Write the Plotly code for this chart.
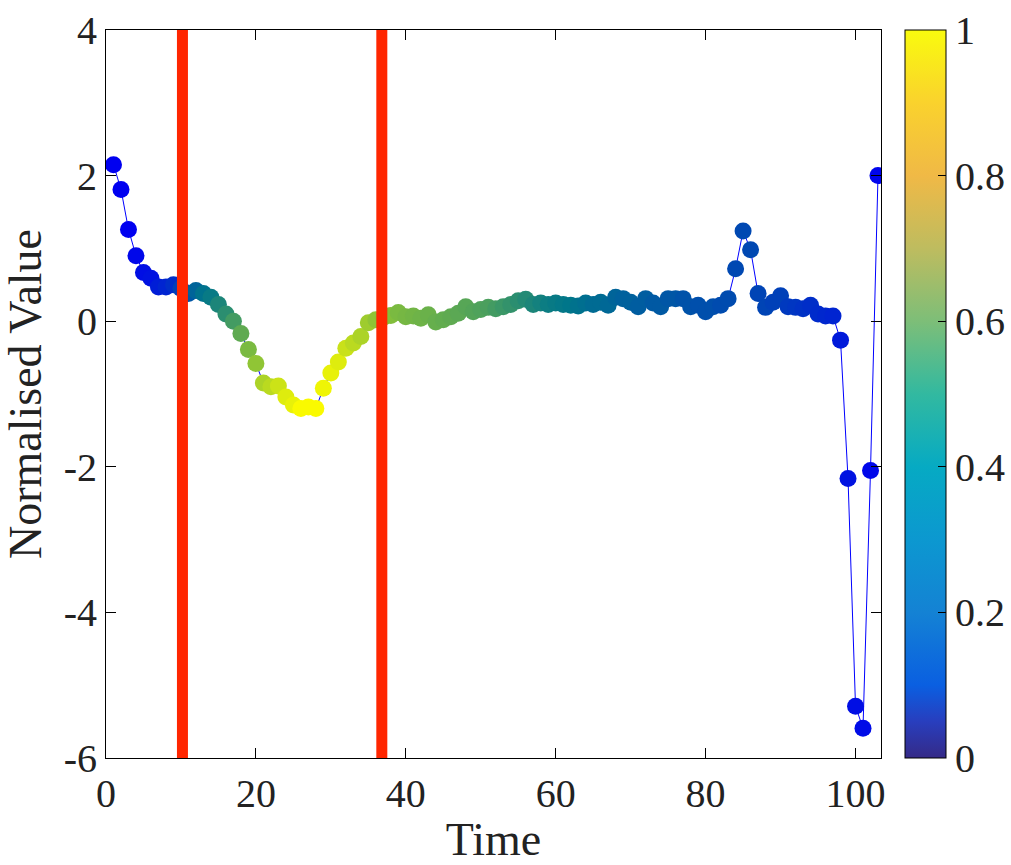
import plotly.graph_objects as go

time = list(range(1, 104))
values = [2.15, 1.81, 1.26, 0.90, 0.67, 0.59, 0.47, 0.47, 0.50, 0.45,
          0.38, 0.42, 0.38, 0.33, 0.23, 0.10, 0.00, -0.17, -0.39, -0.58,
          -0.85, -0.90, -0.89, -1.04, -1.15, -1.20, -1.18, -1.20, -0.92, -0.71,
          -0.56, -0.37, -0.30, -0.21, -0.02, 0.02, 0.05, 0.08, 0.12, 0.06,
          0.07, 0.04, 0.09, -0.01, 0.02, 0.06, 0.11, 0.20, 0.13, 0.16,
          0.19, 0.17, 0.20, 0.23, 0.28, 0.30, 0.23, 0.25, 0.23, 0.25,
          0.23, 0.22, 0.21, 0.25, 0.23, 0.26, 0.22, 0.33, 0.31, 0.26,
          0.20, 0.31, 0.25, 0.20, 0.31, 0.31, 0.31, 0.20, 0.22, 0.13,
          0.20, 0.22, 0.31, 0.72, 1.24, 0.98, 0.38, 0.19, 0.26, 0.35,
          0.20, 0.19, 0.17, 0.22, 0.10, 0.07, 0.07, -0.26, -2.16, -5.29,
          -5.59, -2.05, 2.00]
colour_value = [0.00, 0.00, 0.00, 0.02, 0.04, 0.05, 0.08, 0.10, 0.13, 0.18,
                0.24, 0.28, 0.32, 0.35, 0.40, 0.44, 0.50, 0.57, 0.64, 0.70,
                0.78, 0.82, 0.87, 0.92, 0.95, 1.00, 1.00, 1.00, 0.97, 0.95,
                0.92, 0.86, 0.82, 0.78, 0.74, 0.70, 0.68, 0.66, 0.64, 0.63,
                0.62, 0.61, 0.60, 0.59, 0.58, 0.57, 0.56, 0.55, 0.54, 0.53,
                0.52, 0.50, 0.48, 0.46, 0.44, 0.42, 0.40, 0.38, 0.36, 0.35,
                0.34, 0.33, 0.32, 0.31, 0.30, 0.30, 0.29, 0.28, 0.27, 0.27,
                0.26, 0.26, 0.25, 0.25, 0.24, 0.24, 0.23, 0.23, 0.22, 0.22,
                0.22, 0.21, 0.21, 0.20, 0.20, 0.20, 0.19, 0.19, 0.18, 0.18,
                0.16, 0.15, 0.14, 0.13, 0.12, 0.11, 0.10, 0.07, 0.05, 0.04,
                0.03, 0.02, 0.01]
event_times = [10.2, 36.8]
x_ticks = [0, 20, 40, 60, 80, 100]
y_ticks = [-6, -4, -2, 0, 2, 4]
y_tick_text = ["-6", "-4", "-2", "0", "2", "4"]
cbar_ticks = [0, 0.2, 0.4, 0.6, 0.8, 1]
cbar_tick_text = ["0", "0.2", "0.4", "0.6", "0.8", "1"]

marker_scale = [[0.0, "rgb(0,0,240)"], [0.33, "rgb(0,118,138)"],
                [0.66, "rgb(130,190,60)"], [1.0, "rgb(250,250,0)"]]
parula = [[0.0, "rgb(53,42,135)"], [0.05, "rgb(40,62,190)"], [0.1, "rgb(10,95,225)"],
          [0.2, "rgb(20,130,212)"], [0.3, "rgb(12,152,208)"], [0.4, "rgb(6,170,195)"],
          [0.5, "rgb(50,185,160)"], [0.6, "rgb(125,190,120)"], [0.7, "rgb(190,188,95)"],
          [0.8, "rgb(240,185,70)"], [0.9, "rgb(250,210,45)"], [1.0, "rgb(249,251,14)"]]

FONT = "Liberation Serif"
fig = go.Figure()
fig.add_trace(go.Scatter(x=time, y=values, mode="lines",
                         line=dict(color="rgb(0,0,255)", width=1), showlegend=False,
                         hoverinfo="skip"))
fig.add_trace(go.Scatter(x=time, y=values, mode="markers",
                         marker=dict(size=17, color=colour_value, colorscale=marker_scale,
                                     cmin=0, cmax=1, showscale=False, line=dict(width=0)),
                         showlegend=False))
fig.add_trace(go.Scatter(x=[None], y=[None], mode="markers", showlegend=False,
                         marker=dict(color=[0], colorscale=parula, cmin=0, cmax=1,
                                     showscale=True,
                                     colorbar=dict(x=1.031, xanchor="left", xpad=0,
                                                   y=0.5, yanchor="middle", ypad=0,
                                                   len=728, lenmode="pixels",
                                                   thickness=41, thicknessmode="pixels",
                                                   outlinewidth=1, outlinecolor="black",
                                                   tickmode="array", tickvals=cbar_ticks,
                                                   ticktext=cbar_tick_text,
                                                   ticks="inside", ticklen=8,
                                                   tickcolor="black",
                                                   tickfont=dict(family=FONT, size=40, color="#222")))))

for t in event_times:
    fig.add_shape(type="line", x0=t, x1=t, y0=0, y1=1, xref="x", yref="paper",
                  line=dict(color="rgb(255,38,0)", width=11), layer="above")

fig.update_layout(
    width=1011, height=865,
    margin=dict(l=106, r=130, t=30, b=107, autoexpand=False),
    plot_bgcolor="white", paper_bgcolor="white",
    font=dict(family=FONT, size=40, color="#222"),
    xaxis=dict(range=[0, 103.4], tickmode="array", tickvals=x_ticks,
               ticks="inside", ticklen=10, tickcolor="black", showgrid=False,
               zeroline=False, showline=True, linecolor="black", linewidth=1,
               mirror="ticks", title=dict(text="Time", font=dict(size=46), standoff=8),
               tickfont=dict(size=40)),
    yaxis=dict(range=[-6, 4], tickmode="array", tickvals=y_ticks, ticktext=y_tick_text,
               ticks="inside", ticklen=10, tickcolor="black", showgrid=False,
               zeroline=False, showline=True, linecolor="black", linewidth=1,
               mirror="ticks", title=dict(text="Normalised Value", font=dict(size=46), standoff=10),
               tickfont=dict(size=40)),
)

fig.write_html("out.html")
